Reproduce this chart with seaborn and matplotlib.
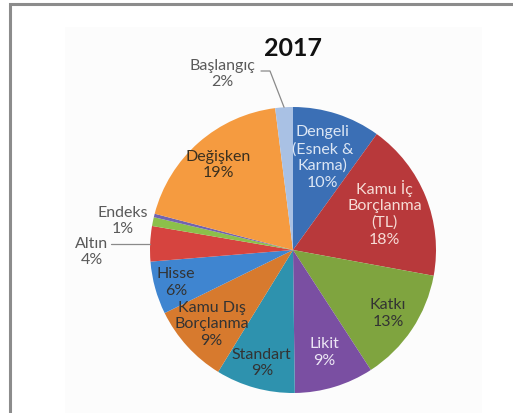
import matplotlib
matplotlib.use("Agg")
import matplotlib.pyplot as plt
import numpy as np
import seaborn as sns
from matplotlib.patches import Rectangle

# Fund-type distribution for 2017 (percent)
title = "2017"
categories = [
    "Dengeli\n(Esnek &\nKarma)", "Kamu İç\nBorçlanma\n(TL)", "Katkı", "Likit",
    "Standart", "Kamu Dış\nBorçlanma", "Hisse", "Altın", "Endeks", "Diğer",
    "Değişken", "Başlangıç",
]
shares = [10, 18, 13, 9, 9, 9, 6, 4, 1, 0.4, 19, 2]
labelled = [True, True, True, True, True, True, True, True, True, False, True, True]

colors = [
    "#3b6fb5", "#b8393b", "#7fa43f", "#7a4fa2", "#2e92ae", "#d77a2e",
    "#3f85d0", "#d6443f", "#8cc04a", "#7163b0", "#f59b40", "#a9c1e4",
]

# label styling: radial fraction for labels inside the wedges (None = outside)
inside_frac = [0.68, 0.69, 0.80, 0.75, 0.82, 0.77, 0.85, None, None, None, 0.79, None]
dark, grey = "#333333", "#5a5a5a"
text_colors = ["#dce6f4", "#f6dcd6", dark, "#ece6f4", dark, dark, dark,
               grey, grey, grey, "#3a3020", grey]

sns.set_theme(style="white")
plt.rcParams["font.family"] = ["Lato", "DejaVu Sans"]

W, H = 513, 413
fig = plt.figure(figsize=(W / 100, H / 100), dpi=100)
ax = fig.add_axes([0, 0, 1, 1])


def top(y):
    """Convert a y measured from the top edge into axes units."""
    return H - y


cx, cy, R = 293, top(250), 143
palette = sns.color_palette(colors)
wedges, _ = ax.pie(
    shares, colors=palette, startangle=90, counterclock=False,
    center=(cx, cy), radius=R, wedgeprops=dict(linewidth=0),
)
ax.set_xlim(0, W)
ax.set_ylim(0, H)
ax.set_aspect("equal")
ax.axis("off")

# chart frame and faint plot area
ax.add_patch(Rectangle((65, -5), 417, top(27) + 5, fc="#fcfcfc", ec="none", zorder=-2))
ax.add_patch(Rectangle((9.5, -20), 600, top(3.5) + 20, fill=False,
                       ec="#8c8c8c", lw=2.2, zorder=5, clip_on=False))

ax.text(cx, top(48), title, ha="center", va="center", fontsize=18,
        fontweight="bold", color="#111111")

font_kw = dict(fontsize=11.5, ha="center", va="center", linespacing=1.22)


def wedge_point(w, frac):
    ang = np.deg2rad((w.theta1 + w.theta2) / 2)
    return cx + frac * R * np.cos(ang), cy + frac * R * np.sin(ang)


for w, name, val, show, frac, tc in zip(wedges, categories, shares, labelled,
                                         inside_frac, text_colors):
    if not show or frac is None:
        continue
    x, y = wedge_point(w, frac)
    ax.text(x, y, f"{name}\n{val:g}%", color=tc, **font_kw)

# labels placed outside the pie
outside = {"Başlangıç": (222, 74), "Endeks": (123, 221), "Altın": (92, 252)}
for i, (name, val) in enumerate(zip(categories, shares)):
    if name in outside:
        x, y = outside[name]
        ax.text(x, top(y), f"{name}\n{val:g}%", color=text_colors[i], **font_kw)

# leader lines
b = wedges[categories.index("Başlangıç")]
bx, by = wedge_point(b, 1.0)
ax.plot([261, 270, bx], [top(71), top(71), by], color="#8a8a8a", lw=0.9)

a = wedges[categories.index("Altın")]
axp, ayp = wedge_point(a, 1.0)
ax.plot([111, axp], [ayp, ayp], color="#8a8a8a", lw=0.9)

fig.savefig("out.png", dpi=100)
